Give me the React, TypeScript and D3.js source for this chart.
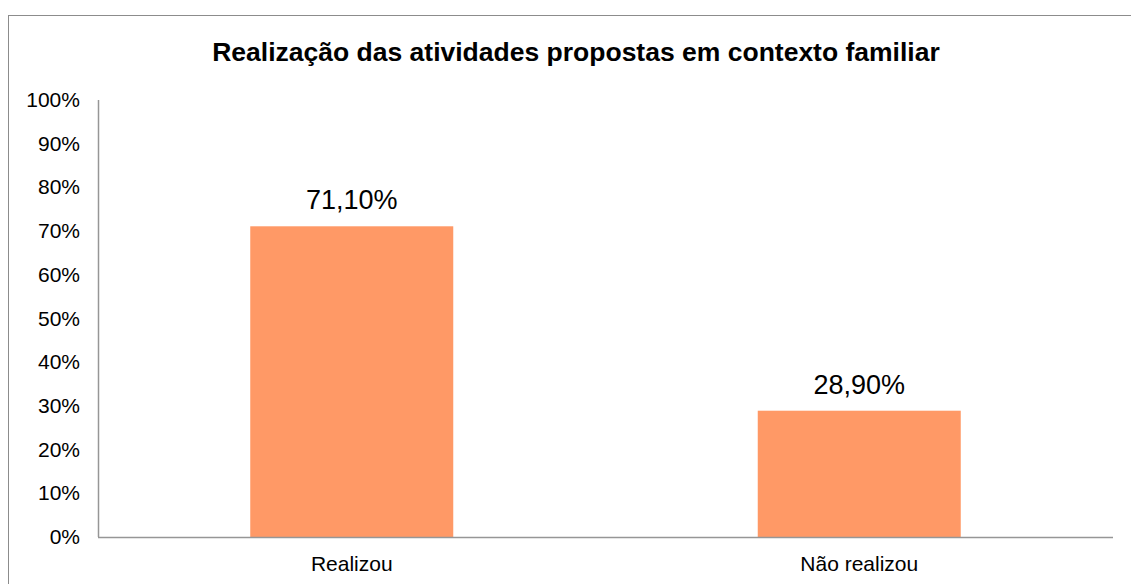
import React from "react";
import * as d3 from "d3";

const categories = ["Realizou", "Não realizou"];
const values = [71.1, 28.9];
const valueLabels = ["71,10%", "28,90%"];
const yTicks = [0, 10, 20, 30, 40, 50, 60, 70, 80, 90, 100];

const W = 1131;
const H = 584;

const App = () => {
  // plot area
  const left = 98;
  const right = 1113;
  const top = 100;
  const bottom = 537;

  const x = d3
    .scaleBand()
    .domain(categories)
    .range([left, right])
    .paddingInner(0.6)
    .paddingOuter(0.3);

  const y = d3.scaleLinear().domain([0, 100]).range([bottom, top]);

  const font = "'Liberation Sans', Arial, sans-serif";

  return (
    <svg
      width={W}
      height={H}
      style={{ position: "fixed", left: 0, top: 0, background: "#fff" }}
      fontFamily={font}
    >
      {/* outer frame */}
      <rect x={8.5} y={15.5} width={W} height={H} fill="none" stroke="#8c8c8c" strokeWidth={1} />

      <text x={576} y={61} textAnchor="middle" fontSize={26.5} fontWeight="bold" fill="#000">
        Realização das atividades propostas em contexto familiar
      </text>

      {yTicks.map((t) => (
        <text key={t} x={80} y={y(t) + 7} textAnchor="end" fontSize={21} fill="#000">
          {t}%
        </text>
      ))}

      {categories.map((c, i) => (
        <g key={c}>
          <rect
            x={x(c)}
            y={y(values[i])}
            width={x.bandwidth()}
            height={bottom - y(values[i])}
            fill="#ff9966"
          />
          <text
            x={(x(c) as number) + x.bandwidth() / 2}
            y={y(values[i]) - 17}
            textAnchor="middle"
            fontSize={27}
            fill="#000"
          >
            {valueLabels[i]}
          </text>
          <text
            x={(x(c) as number) + x.bandwidth() / 2}
            y={571}
            textAnchor="middle"
            fontSize={21}
            fill="#000"
          >
            {c}
          </text>
        </g>
      ))}

      {/* axes */}
      <line x1={left + 0.5} x2={left + 0.5} y1={top} y2={bottom} stroke="#969696" strokeWidth={1.5} />
      <line x1={left} x2={right} y1={bottom + 0.5} y2={bottom + 0.5} stroke="#969696" strokeWidth={1.5} />
    </svg>
  );
};

export default App;
